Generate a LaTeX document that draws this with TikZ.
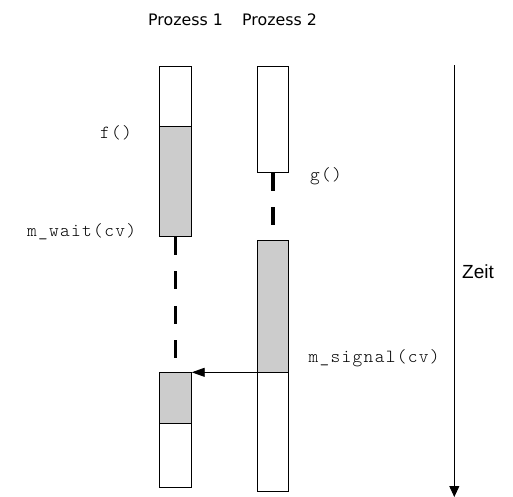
\documentclass[tikz,border=0pt]{standalone}
\usepackage{fontspec}
\usetikzlibrary{arrows.meta}
\newfontfamily\headfont{DejaVu Sans}
\newfontfamily\axisfont{Liberation Sans}
\newfontfamily\codefont[LetterSpace=7]{Latin Modern Mono Light}
\definecolor{runfill}{HTML}{CCCCCC}
\tikzset{
  phase/.style={draw=black, line width=0.9pt, inner sep=0pt, anchor=north,
                minimum width=#1},
  idle/.style={phase=31.5pt, fill=white},
  active/.style={phase=31.5pt, fill=runfill},
  waiting/.style={line width=3.6pt, dash pattern=on 18pt off 16.5pt},
  code/.style={font=\codefont\fontsize{18.5}{20}\selectfont, inner sep=0pt, anchor=base west},
  head/.style={font=\headfont\fontsize{15.8}{18}\selectfont, inner sep=0pt, anchor=base west},
  timeline/.style={line width=0.9pt, -{Triangle[length=11pt,width=10pt]}},
  signal/.style={line width=0.9pt, -{Triangle[length=13pt,width=9pt]}}
}
\begin{document}
\begin{tikzpicture}[x=1pt,y=-1pt]
\useasboundingbox (0,0) rectangle (513,496);
\fill[white] (0,0) rectangle (513,496);

% column headings
\node[head] (h1) at (148,25) {Prozess 1};
\node[head] (h2) at (242,25) {Prozess 2};

% process 1
\node[idle,   minimum height=60pt]   (p1a) at (175.5,65.7)  {};
\node[active, minimum height=110.3pt] (p1b) at (175.5,125.7) {};
\node[active, minimum height=51pt]   (p1c) at (175.5,372.3) {};
\node[idle,   minimum height=63.4pt] (p1d) at (175.5,423.3) {};
\draw[waiting] (p1b.south) -- (p1c.north);

% process 2
\node[idle,   minimum height=106.6pt] (p2a) at (273,65.7)  {};
\node[active, minimum height=132.3pt] (p2b) at (273,240)   {};
\node[idle,   minimum height=119pt]   (p2c) at (273,372.3) {};
\draw[waiting, dash pattern=on 17.5pt off 16.5pt] (p2a.south) -- (p2b.north);

% wake-up signal
\draw[signal] (p2c.north west) -- (p1c.north east);

% time axis
\coordinate (t0) at (454.3,65);
\coordinate (t1) at (454.3,497);
\draw[timeline] (t0) -- (t1);
\node[font=\axisfont\fontsize{19}{22}\selectfont, inner sep=0pt, anchor=base west] (zeit) at (462,278) {Zeit};

% call labels
\node[code] (lf) at (100,138) {f()};
\node[code] (lg) at (310,180) {g()};
\node[code] (lw) at (27,236) {m\_wait(cv)};
\node[code] (ls) at (308.5,362) {m\_signal(cv)};
\end{tikzpicture}
\end{document}
